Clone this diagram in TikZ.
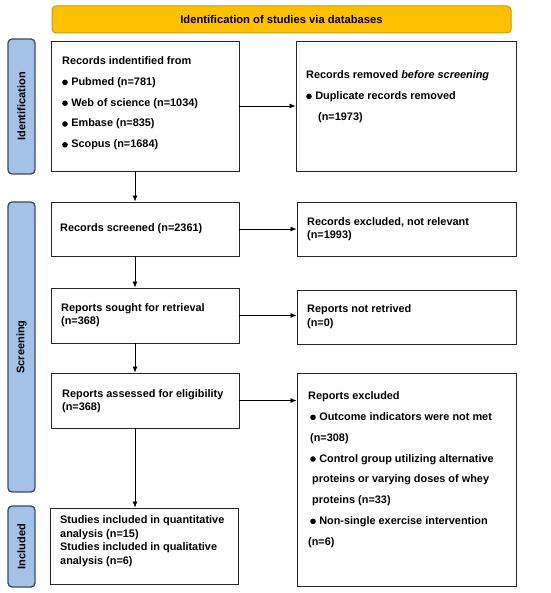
\documentclass[tikz,border=0pt]{standalone}
\usepackage{fontspec}
\setmainfont{Liberation Sans}
\usetikzlibrary{arrows.meta}
\definecolor{bannerfill}{HTML}{FFC000}
\definecolor{bannerdraw}{HTML}{C99A00}
\definecolor{sidefill}{HTML}{A4C2E8}
\definecolor{sidedraw}{HTML}{3E4B5C}
\newcommand{\bul}{\tikz[baseline=-3pt]\fill (0,0) circle (2.8pt);\hspace{3.5pt}}
\tikzset{
  box/.style={draw=black!85, line width=0.9pt, fill=white, inner sep=0pt},
  txt/.style={anchor=north west, inner sep=0pt, align=left, font=\fontsize{10.9}{13.6}\selectfont\bfseries},
  btxt/.style={anchor=north west, inner sep=0pt, align=left, font=\fontsize{10.9}{20.8}\selectfont\bfseries},
  side/.style={draw=sidedraw, line width=1.3pt, fill=sidefill, rounded corners=4pt, minimum width=27pt, inner sep=0pt},
  sidetxt/.style={rotate=90, font=\fontsize{11}{12}\selectfont\bfseries, inner sep=0pt},
  arr/.style={-{Latex[length=6pt,width=5pt]}, line width=0.8pt, black}
}
\begin{document}
\begin{tikzpicture}[x=1pt,y=-1pt]
\useasboundingbox (0,0) rectangle (550,593);
% banner
\node[draw=bannerdraw, line width=1pt, fill=bannerfill, rounded corners=4pt, minimum width=459pt, minimum height=27pt, inner sep=0pt, font=\fontsize{11.2}{12}\selectfont\bfseries] (banner) at (281.5,19.5) {Identification of studies via databases};
% side labels
\node[side, minimum height=135pt] (sid) at (21.5,106.5) {};
\node[sidetxt] (sidt) at (sid.center) {Identification};
\node[side, minimum height=290pt] (scr) at (21.5,347) {};
\node[sidetxt] (scrt) at (scr.center) {Screening};
\node[side, minimum height=81pt] (inc) at (21.5,546.5) {};
\node[sidetxt] (inct) at (inc.center) {Included};
% boxes
\node[box, minimum width=188pt, minimum height=130pt] (b1) at (145,106) {};
\node[box, minimum width=220pt, minimum height=130pt] (r1) at (406,106) {};
\node[box, minimum width=188pt, minimum height=54pt] (b2) at (145,229) {};
\node[box, minimum width=219pt, minimum height=54pt] (r2) at (406.5,229) {};
\node[box, minimum width=188pt, minimum height=55pt] (b3) at (145,315.5) {};
\node[box, minimum width=219pt, minimum height=54pt] (r3) at (406.5,317) {};
\node[box, minimum width=188pt, minimum height=55pt] (b4) at (145,400.5) {};
\node[box, minimum width=219pt, minimum height=213pt] (r4) at (406.5,479.5) {};
\node[box, minimum width=188pt, minimum height=76pt] (b5) at (144,546) {};
% texts
\node[btxt] (t1) at (62,56.5) {Records indentified from\\
\bul Pubmed (n=781)\\
\bul Web of science (n=1034)\\
\bul Embase (n=835)\\
\bul Scopus (n=1684)};
\node[btxt] (tr1) at (306,70.5) {Records removed \textit{before screening}\\
\bul Duplicate records removed\\
\hspace*{12pt}(n=1973)};
\node[txt] (t2) at (60,223.5) {Records screened (n=2361)};
\node[txt] (tr2) at (307,217) {Records excluded, not relevant\\(n=1993)};
\node[txt] (t3) at (61,303) {Reports sought for retrieval\\(n=368)};
\node[txt] (tr3) at (307,304.5) {Reports not retrived\\(n=0)};
\node[txt] (t4) at (62,389) {Reports assessed for eligibility\\(n=368)};
\node[btxt] (tr4) at (308,391.5) {Reports excluded\\
\hspace*{2pt}\bul Outcome indicators were not met\\
\hspace*{2pt}(n=308)\\
\hspace*{2pt}\bul Control group utilizing alternative\\
\hspace*{4pt}proteins or varying doses of whey\\
\hspace*{4pt}proteins (n=33)\\
\hspace*{2pt}\bul Non-single exercise intervention\\
(n=6)};
\node[txt] (t5) at (60,515.5) {Studies included in quantitative\\analysis (n=15)\\Studies included in qualitative\\analysis (n=6)};
% connectors
\coordinate (ax) at (135,0);
\draw[arr] (b1.east) -- (r1.west);
\draw[arr] (b2.east) -- (r2.west);
\draw[arr] (b3.east) -- (b3.east -| r3.west);
\draw[arr] (b4.east) -- (b4.east -| r4.west);
\draw[arr] (b1.south -| ax) -- (b2.north -| ax);
\draw[arr] (b2.south -| ax) -- (b3.north -| ax);
\draw[arr] (b3.south -| ax) -- (b4.north -| ax);
\draw[arr] (b4.south -| ax) -- (b5.north -| ax);
\end{tikzpicture}
\end{document}
